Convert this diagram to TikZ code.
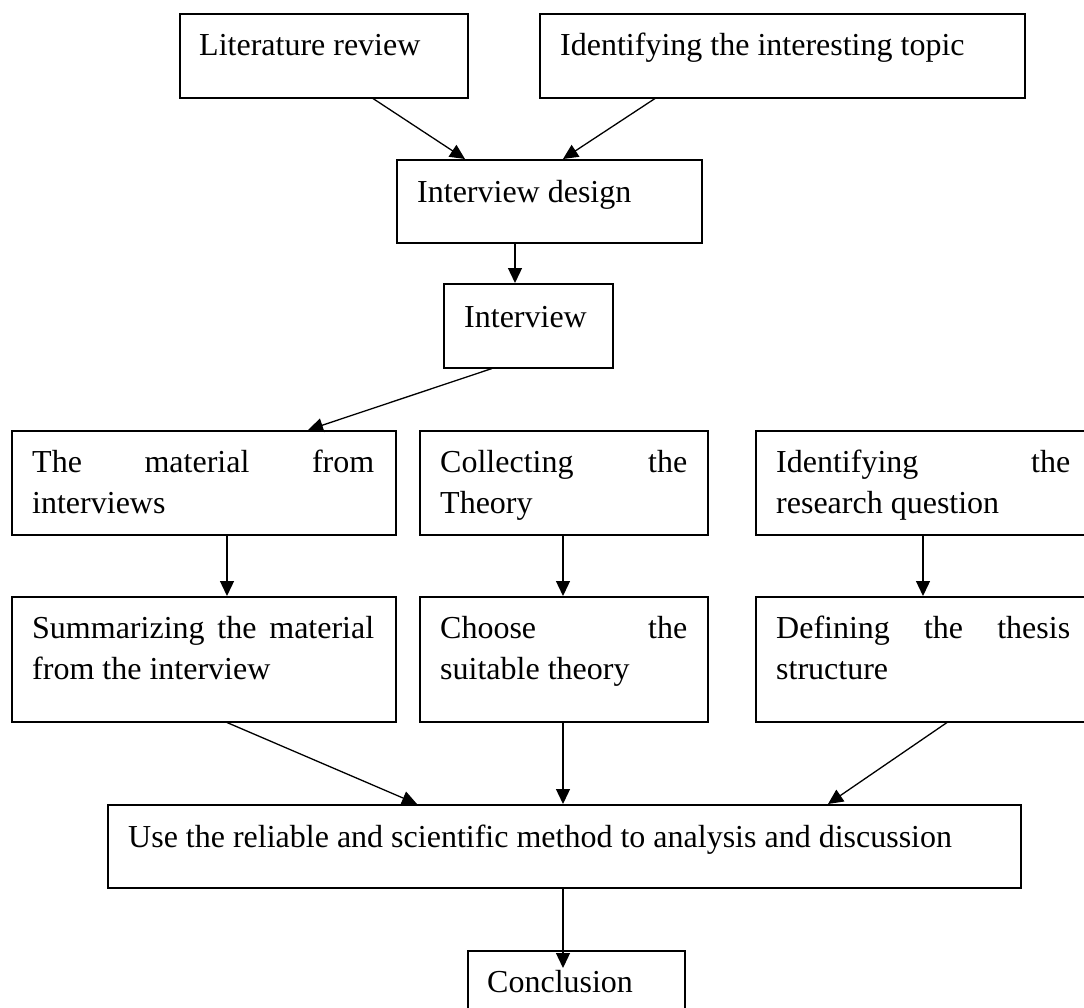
\documentclass[tikz,border=0pt]{standalone}
\usepackage{fontspec}
\setmainfont{Liberation Serif}
\usetikzlibrary{arrows.meta}
\newcommand\mylblfont{\fontsize{32}{41}\selectfont\hyphenpenalty=10000\relax\tolerance=10000\relax}
\begin{document}
\begin{tikzpicture}[x=1pt,y=-1pt,
  stepbox/.style={draw, line width=1.5pt, rectangle, inner sep=0pt, anchor=north west},
  lbl/.style={inner sep=0pt, anchor=base west, font=\mylblfont},
  plbl/.style={lbl, align=justify, text width=#1},
  arr/.style={line width=1.3pt, -{Triangle[length=15pt,width=14pt]}}]
\clip (0,0) rectangle (1084,1007);
\fill[white] (0,0) rectangle (1084,1007);
% boxes
\node[stepbox, minimum width=288pt, minimum height=84pt] (lit) at (179,13) {};
\node[stepbox, minimum width=485pt, minimum height=84pt] (topic) at (539,13) {};
\node[stepbox, minimum width=305pt, minimum height=83pt] (design) at (396,159) {};
\node[stepbox, minimum width=169pt, minimum height=84pt] (interview) at (443,283) {};
\node[stepbox, minimum width=384pt, minimum height=104pt] (mat) at (11,430) {};
\node[stepbox, minimum width=288pt, minimum height=104pt] (coll) at (419,430) {};
\node[stepbox, minimum width=336pt, minimum height=104pt] (rq) at (755,430) {};
\node[stepbox, minimum width=384pt, minimum height=125pt] (sum) at (11,596) {};
\node[stepbox, minimum width=288pt, minimum height=125pt] (choose) at (419,596) {};
\node[stepbox, minimum width=336pt, minimum height=125pt] (def) at (755,596) {};
\node[stepbox, minimum width=913pt, minimum height=83pt] (main) at (107,804) {};
\node[stepbox, minimum width=217pt, minimum height=90pt] (concl) at (467,950) {};
% texts
\node[lbl] (litT) at ([xshift=20pt,yshift=-42pt]lit.north west) {Literature review};
\node[lbl] (topicT) at ([xshift=21pt,yshift=-42pt]topic.north west) {Identifying the interesting topic};
\node[lbl] (designT) at ([xshift=21pt,yshift=-43pt]design.north west) {Interview design};
\node[lbl] (interviewT) at ([xshift=21pt,yshift=-44pt]interview.north west) {Interview};
\node[plbl=342pt] (matT) at ([xshift=21pt,yshift=-42pt]mat.north west) {The material from\linebreak interviews};
\node[plbl=247pt] (collT) at ([xshift=21pt,yshift=-42pt]coll.north west) {Collecting the\linebreak Theory};
\node[plbl=294pt] (rqT) at ([xshift=21pt,yshift=-42pt]rq.north west) {Identifying the\linebreak research question};
\node[plbl=342pt] (sumT) at ([xshift=21pt,yshift=-42pt]sum.north west) {Summarizing the material\linebreak from the interview};
\node[plbl=247pt] (chooseT) at ([xshift=21pt,yshift=-42pt]choose.north west) {Choose the\linebreak suitable theory};
\node[plbl=294pt] (defT) at ([xshift=21pt,yshift=-42pt]def.north west) {Defining the thesis\linebreak structure};
\node[lbl] (mainT) at ([xshift=21pt,yshift=-43pt]main.north west) {Use the reliable and scientific method to analysis and discussion};
\node[lbl] (conclT) at ([xshift=20pt,yshift=-42pt]concl.north west) {Conclusion};
% arrows
\draw[arr] ([xshift=194pt]lit.south west) -- ([xshift=69pt]design.north west);
\draw[arr] ([xshift=116pt]topic.south west) -- ([xshift=167pt]design.north west);
\draw[arr] ([xshift=119pt]design.south west) -- ([xshift=72pt]interview.north west);
\draw[arr] ([xshift=49pt]interview.south west) -- ([xshift=297pt]mat.north west);
\draw[arr] ([xshift=216pt]mat.south west) -- ([xshift=216pt]sum.north west);
\draw[arr] ([xshift=144pt]coll.south west) -- ([xshift=144pt]choose.north west);
\draw[arr] ([xshift=168pt]rq.south west) -- ([xshift=168pt]def.north west);
\draw[arr] ([xshift=216pt]sum.south west) -- ([xshift=310pt]main.north west);
\draw[arr] ([xshift=144pt]choose.south west) -- ([xshift=456pt]main.north west);
\draw[arr] ([xshift=192pt]def.south west) -- ([xshift=721pt]main.north west);
\draw[arr] ([xshift=456pt]main.south west) -- ([xshift=96pt,yshift=-18pt]concl.north west);
\end{tikzpicture}
\end{document}
